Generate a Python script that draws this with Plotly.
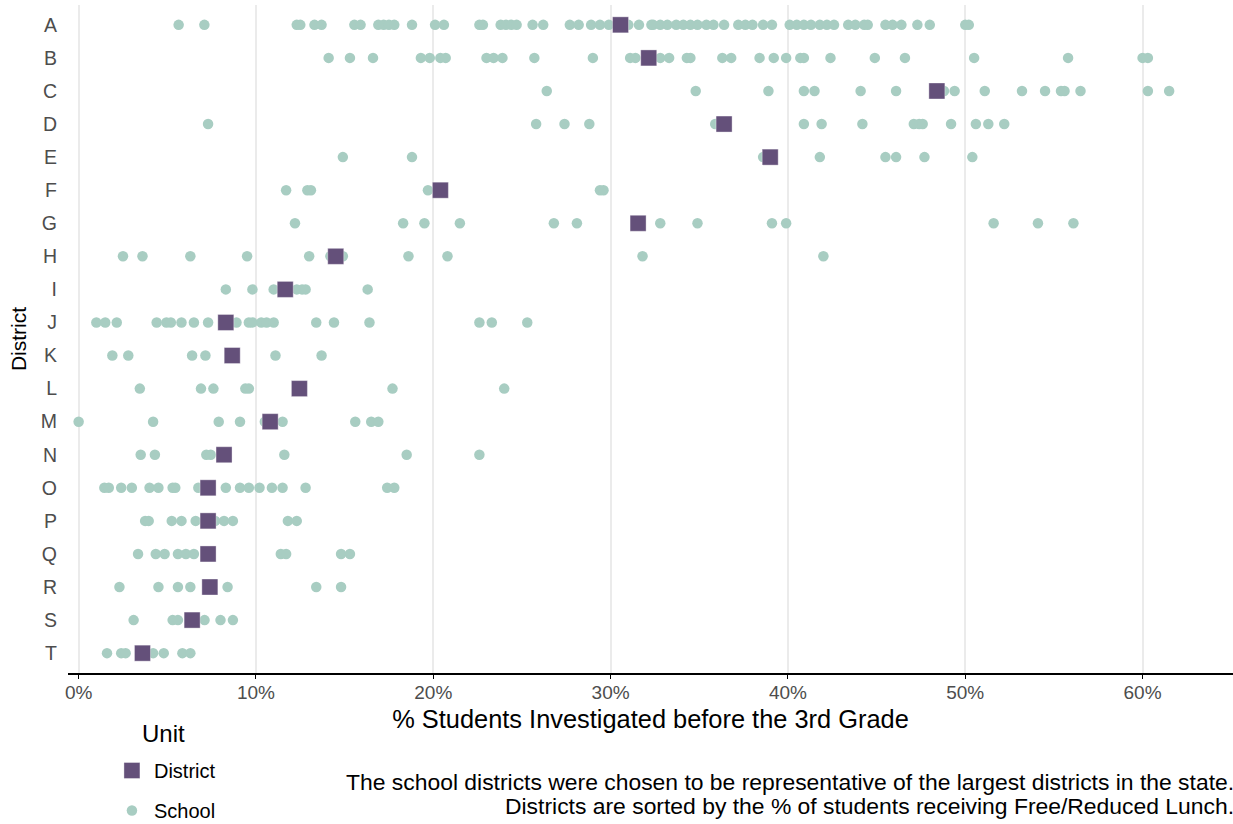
import plotly.graph_objects as go

districts = list("ABCDEFGHIJKLMNOPQRST")

district_values = [30.56, 32.15, 48.4, 36.4, 39.0, 20.4, 31.55, 14.5, 11.65, 8.3,
                   8.66, 12.45, 10.8, 8.2, 7.3, 7.3, 7.3, 7.4, 6.4, 3.6]

school_A = [5.64, 7.09, 12.3, 12.5, 13.3, 13.7, 15.55, 15.9, 16.9, 17.2, 17.5, 17.8, 18.8,
            20.1, 20.6, 22.6, 22.8, 23.8, 24.1, 24.4, 24.7, 25.6, 26.2, 27.7, 28.2, 28.9,
            29.4, 29.9, 30.4, 31.0, 31.6, 32.3, 32.4, 32.8, 33.2, 33.7, 34.1, 34.5, 34.9,
            35.4, 35.8, 36.4, 37.2, 37.6, 38.0, 38.6, 39.1, 40.1, 40.5, 40.9, 41.3, 41.8,
            42.2, 42.6, 43.4, 43.8, 44.3, 44.5, 45.5, 45.9, 46.4, 47.3, 48.0, 50.0, 50.2]
school_B = [14.1, 15.3, 16.6, 19.3, 19.8, 20.4, 20.7, 23.0, 23.4, 23.9, 25.7, 29.0, 31.1,
            31.4, 32.8, 33.3, 34.3, 34.5, 36.3, 36.8, 38.4, 39.2, 39.9, 40.7, 40.9, 42.4,
            44.9, 46.6, 50.5, 55.8, 60.0, 60.3]
school_C = [26.4, 34.8, 38.9, 40.9, 41.5, 44.1, 46.1, 48.8, 49.4, 51.1, 53.2, 54.5, 55.4,
            55.6, 56.5, 60.3, 61.5]
school_D = [7.3, 25.8, 27.4, 28.8, 35.9, 40.9, 41.9, 44.2, 47.1, 47.4, 47.6, 49.2, 50.6,
            51.3, 52.2]
school_E = [14.9, 18.8, 38.6, 41.8, 45.5, 46.1, 47.7, 50.4]
school_F = [11.7, 12.9, 13.1, 19.7, 29.4, 29.6]
school_G = [12.2, 18.3, 19.5, 21.5, 26.8, 28.1, 32.8, 34.9, 39.1, 39.9, 51.6, 54.1, 56.1]
school_H = [2.5, 3.6, 6.3, 9.5, 13.0, 14.2, 14.9, 18.6, 20.8, 31.8, 42.0]
school_I = [8.3, 9.8, 11.0, 12.3, 12.6, 12.8, 16.3]
school_J = [1.0, 1.5, 2.15, 4.4, 4.95, 5.2, 5.8, 6.5, 7.3, 8.9, 9.6, 9.8, 10.3, 10.6,
            11.0, 13.4, 14.4, 16.4, 22.6, 23.3, 25.3]
school_K = [1.9, 2.8, 6.4, 7.15, 8.8, 11.1, 13.7]
school_L = [3.45, 6.9, 7.6, 9.4, 9.6, 17.7, 24.0]
school_M = [0.0, 4.2, 7.9, 9.1, 10.5, 11.5, 15.6, 16.5, 16.9]
school_N = [3.5, 4.3, 7.2, 7.45, 11.6, 18.5, 22.6]
school_O = [1.45, 1.7, 2.4, 3.0, 4.0, 4.5, 5.3, 5.45, 6.75, 8.3, 9.1, 9.6, 10.2, 10.9,
            11.5, 12.8, 17.4, 17.8]
school_P = [3.75, 3.95, 5.25, 5.8, 6.6, 7.7, 8.2, 8.7, 11.8, 12.3]
school_Q = [3.35, 4.35, 4.85, 5.6, 6.05, 6.5, 11.4, 11.7, 14.8, 15.3]
school_R = [2.3, 4.5, 5.6, 6.3, 8.4, 13.4, 14.8]
school_S = [3.1, 5.3, 5.6, 7.1, 8.0, 8.7]
school_T = [1.6, 2.4, 2.65, 4.2, 4.8, 5.85, 6.3]

school_lists = [school_A, school_B, school_C, school_D, school_E, school_F, school_G,
                school_H, school_I, school_J, school_K, school_L, school_M, school_N,
                school_O, school_P, school_Q, school_R, school_S, school_T]

x_ticks = [0, 10, 20, 30, 40, 50, 60]
x_tick_labels = ["0%", "10%", "20%", "30%", "40%", "50%", "60%"]

caption_line1 = "The school districts were chosen to be representative of the largest districts in the state."
caption_line2 = "Districts are sorted by the % of students receiving Free/Reduced Lunch."

school_x, school_y = [], []
for d, vals in zip(districts, school_lists):
    school_x.extend(vals)
    school_y.extend([d] * len(vals))

FONT = "Liberation Sans, Arial, sans-serif"
TEAL = "#a8cdc2"
PURPLE = "#64507a"

FIG_W, FIG_H = 1233, 824
# plot area in pixels: top 5, bottom 673
PLOT_TOP, PLOT_BOTTOM = 5, 673


def paper_y(py):
    return (PLOT_BOTTOM - py) / (PLOT_BOTTOM - PLOT_TOP)


fig = go.Figure()
fig.add_trace(go.Scatter(
    x=school_x, y=school_y, mode="markers", name="School",
    legendgroup="school", legendrank=2,
    marker=dict(symbol="circle", size=10.5, color=TEAL, line=dict(width=0)),
))
fig.add_trace(go.Scatter(
    x=district_values, y=districts, mode="markers", name="District",
    legendgroup="district", legendrank=1,
    marker=dict(symbol="square", size=16, color=PURPLE,
                line=dict(width=0.8, color="rgba(255,255,255,0.45)")),
))

fig.update_layout(
    width=FIG_W, height=FIG_H,
    margin=dict(l=68, r=0, t=PLOT_TOP, b=FIG_H - PLOT_BOTTOM),
    paper_bgcolor="white", plot_bgcolor="white",
    font=dict(family=FONT, color="#000000"),
    showlegend=True,
    legend=dict(
        font=dict(size=20, color="#000000"),
        xref="paper", yref="container",
        x=0.036, y=(FIG_H - 751) / FIG_H, xanchor="left", yanchor="top",
        tracegroupgap=11, bgcolor="rgba(0,0,0,0)", itemwidth=34,
        maxheight=300,
    ),
    xaxis=dict(
        range=[-0.6, 65.1],
        tickvals=x_ticks, ticktext=x_tick_labels,
        tickfont=dict(size=19, color="#4d4d4d"),
        showgrid=True, gridcolor="#ebebeb", gridwidth=1.6,
        zeroline=False,
        showline=True, linecolor="#000000", linewidth=1.5,
        ticks="outside", ticklen=4, tickcolor="#000000", tickwidth=1.2,
        ticklabelstandoff=-3,
        title=dict(text="% Students Investigated before the 3rd Grade",
                   font=dict(size=25.4, color="#000000"), standoff=9),
    ),
    yaxis=dict(
        categoryorder="array", categoryarray=districts,
        range=[19.6, -0.6],
        tickfont=dict(size=19.5, color="#4d4d4d"),
        showgrid=False, zeroline=False, showline=False,
        ticks="", ticklabelstandoff=10,
        title=dict(text="District", font=dict(size=21, color="#000000"), standoff=8),
    ),
    annotations=[
        dict(text="Unit", xref="paper", yref="paper", x=(163 - 68) / 1165, y=paper_y(733),
             xanchor="center", yanchor="middle", showarrow=False,
             font=dict(size=24, color="#000000")),
        dict(text=caption_line1, xref="paper", yref="paper", x=1, y=paper_y(782),
             xanchor="right", yanchor="middle", showarrow=False, xshift=3,
             font=dict(size=22.9, color="#000000")),
        dict(text=caption_line2, xref="paper", yref="paper", x=1, y=paper_y(806),
             xanchor="right", yanchor="middle", showarrow=False, xshift=3,
             font=dict(size=22.9, color="#000000")),
    ],
)

fig.write_html("out.html", config={"displayModeBar": False},
               post_script="document.body.style.margin='0px';")
